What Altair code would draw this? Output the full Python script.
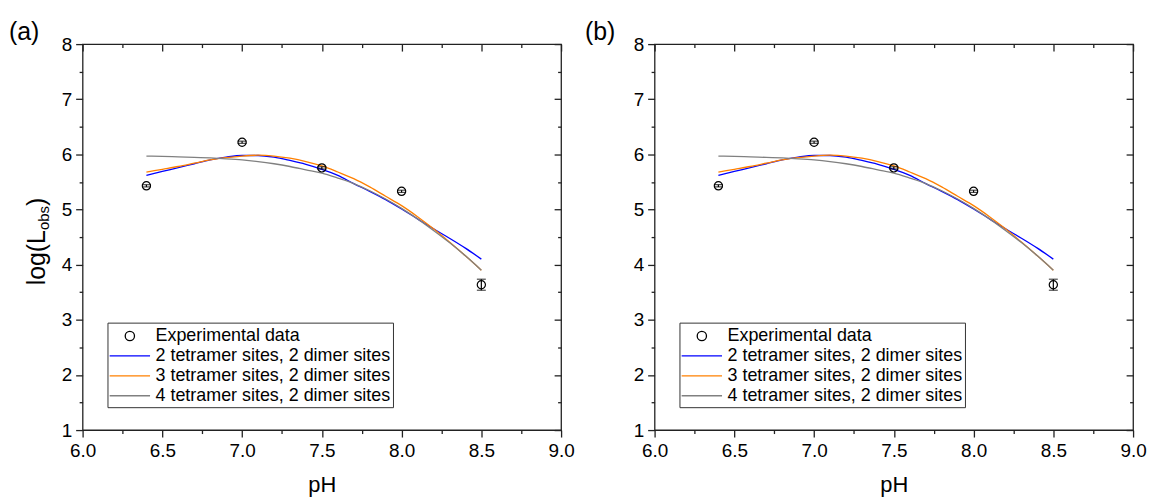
import altair as alt
import pandas as pd

# ---------------- data ----------------
ph_exp = [6.4, 7.0, 7.5, 8.0, 8.5]
logL_exp = [5.43, 6.22, 5.755, 5.33, 3.636]
logL_err = [0.02, 0.02, 0.02, 0.02, 0.10]

ph_fit = [6.4, 6.5, 6.6, 6.7, 6.8, 6.9, 7.0, 7.1, 7.2, 7.3, 7.4,
          7.5, 7.6, 7.7, 7.8, 7.9, 8.0, 8.1, 8.2, 8.3, 8.4, 8.5]
fit_2t = [5.62, 5.69, 5.76, 5.83, 5.90, 5.95, 5.98, 5.98, 5.95, 5.89, 5.82,
          5.73, 5.62, 5.47, 5.33, 5.18, 5.01, 4.83, 4.65, 4.48, 4.30, 4.10]
fit_3t = [5.68, 5.73, 5.78, 5.84, 5.90, 5.94, 5.97, 5.985, 5.97, 5.93, 5.87,
          5.79, 5.68, 5.56, 5.41, 5.24, 5.07, 4.87, 4.65, 4.41, 4.16, 3.90]
fit_4t = [5.97, 5.965, 5.955, 5.945, 5.935, 5.92, 5.90, 5.87, 5.83, 5.78, 5.72,
          5.66, 5.57, 5.47, 5.34, 5.19, 5.02, 4.83, 4.62, 4.40, 4.16, 3.90]

series_names = ["Experimental data",
                "2 tetramer sites, 2 dimer sites",
                "3 tetramer sites, 2 dimer sites",
                "4 tetramer sites, 2 dimer sites"]
series_colors = ["black", "#0000ff", "#ff8000", "#808080"]

x_ticks = [6.0, 6.25, 6.5, 6.75, 7.0, 7.25, 7.5, 7.75, 8.0, 8.25, 8.5, 8.75, 9.0]
x_major_ticks = [6.0, 6.5, 7.0, 7.5, 8.0, 8.5, 9.0]
x_minor_ticks = [6.25, 6.75, 7.25, 7.75, 8.25, 8.75]
y_ticks = [1, 1.5, 2, 2.5, 3, 3.5, 4, 4.5, 5, 5.5, 6, 6.5, 7, 7.5, 8]
y_major_ticks = [1, 2, 3, 4, 5, 6, 7, 8]
y_minor_ticks = [1.5, 2.5, 3.5, 4.5, 5.5, 6.5, 7.5]
panel_labels = ["(a)", "(b)"]
y_title_parts = ["log(L", "obs", ")"]

# ---------------- tables ----------------
fit_df = pd.concat([
    pd.DataFrame({"ph": ph_fit, "v": vals, "series": name})
    for name, vals in zip(series_names[1:], [fit_2t, fit_3t, fit_4t])
])
exp_df = pd.DataFrame({
    "ph": ph_exp,
    "v": logL_exp,
    "lo": [v - e for v, e in zip(logL_exp, logL_err)],
    "hi": [v + e for v, e in zip(logL_exp, logL_err)],
})

FONT = "Liberation Sans"
xs = alt.Scale(domain=[6, 9], nice=False, zero=False)
ys = alt.Scale(domain=[1, 8], nice=False, zero=False)

x_major = "datum.value % 0.5 === 0"
y_major = "datum.value % 1 === 0"

LINE_PATH = "M-2,0H2"
R = 0.46
CIRCLE_PATH = f"M{R},0A{R},{R},0,1,1,-{R},0A{R},{R},0,1,1,{R},0Z"
SYMBOL_EXPR = (f"datum.value === '{series_names[0]}' ? '{CIRCLE_PATH}' : '{LINE_PATH}'")


def make_panel(idx, with_title):
    ax_bottom = alt.Axis(
        orient="bottom", values=x_ticks, title="pH",
        labelExpr=f"{x_major} ? format(datum.value, '.1f') : ''",
        tickSize={"condition": {"test": x_major, "value": 7}, "value": 3.5},
        labelPadding=5, titlePadding=14,
        domain=False, grid=False, labelFlush=False, labelOverlap=False,
    )
    ax_left = alt.Axis(
        orient="left", values=y_ticks, title=None,
        labelExpr=f"{y_major} ? format(datum.value, 'd') : ''",
        tickSize={"condition": {"test": y_major, "value": 7}, "value": 3.5},
        labelPadding=4,
        domain=False, grid=False, labelFlush=False, labelOverlap=False,
    )
    ax_top_major = alt.Axis(orient="top", values=x_major_ticks, title=None, labels=False,
                            tickSize=7, offset=-7, domain=False, grid=False)
    ax_right_major = alt.Axis(orient="right", values=y_major_ticks, title=None, labels=False,
                              tickSize=7, offset=-7, domain=False, grid=False)
    ax_top_minor = alt.Axis(orient="top", values=x_minor_ticks, title=None, labels=False,
                            tickSize=3.5, offset=-3.5, domain=False, grid=False)
    ax_right_minor = alt.Axis(orient="right", values=y_minor_ticks, title=None, labels=False,
                              tickSize=3.5, offset=-3.5, domain=False, grid=False)
    legend = alt.Legend(
        orient="none", legendX=25, legendY=280, title=None,
        fillColor="white", strokeColor="#333333", padding=2.5,
        symbolSize=412, symbolOffset=9, labelOffset=14.8, rowPadding=0,
        symbolStrokeWidth=1.3, labelFont=FONT, labelFontSize=18,
        labelColor="black", labelLimit=0,
        symbolType={"expr": SYMBOL_EXPR},
        symbolFillColor="transparent",
    )

    lines = alt.Chart(fit_df).mark_line(strokeWidth=1.3, interpolate="monotone").encode(
        x=alt.X("ph:Q", scale=xs, axis=ax_bottom),
        y=alt.Y("v:Q", scale=ys, axis=ax_left),
        color=alt.Color("series:N",
                        scale=alt.Scale(domain=series_names, range=series_colors),
                        legend=legend),
    )
    errs = alt.Chart(exp_df).mark_errorbar(ticks=True, size=9, thickness=1.2, color="black").encode(
        x=alt.X("ph:Q", axis=ax_top_minor),
        y=alt.Y("lo:Q", axis=ax_right_minor),
        y2="hi:Q",
    )
    points = alt.Chart(exp_df).mark_point(
        shape="circle", filled=False, size=68, strokeWidth=1.2, color="black", opacity=1
    ).encode(
        x=alt.X("ph:Q", axis=ax_top_major),
        y=alt.Y("v:Q", axis=ax_right_major),
    )
    label = alt.Chart(pd.DataFrame({"t": [panel_labels[idx]]})).mark_text(
        align="left", baseline="middle", fontSize=25, font=FONT, color="black"
    ).encode(text="t:N", x=alt.value(-74 if idx == 0 else -70), y=alt.value(-12))

    layers = [lines, errs, points, label]
    if with_title:
        main_fs, sub_fs = 25, 15
        y0 = 242.5
        parts = [
            (y_title_parts[0], main_fs, -37.5, y0),
            (y_title_parts[1], sub_fs, -33.5, y0 - 2.223 * main_fs),
            (y_title_parts[2], main_fs, -37.5, y0 - 2.223 * main_fs - 1.612 * sub_fs),
        ]
        for txt, fs, px, py in parts:
            layers.append(
                alt.Chart(pd.DataFrame({"t": [txt]})).mark_text(
                    align="left", baseline="alphabetic", angle=270,
                    fontSize=fs, font=FONT, color="black"
                ).encode(text="t:N", x=alt.value(px), y=alt.value(py))
            )
    return alt.layer(*layers).resolve_axis(x="independent", y="independent").properties(
        width=481, height=388
    )


chart = alt.hconcat(
    make_panel(0, True), make_panel(1, False), spacing=94, bounds="flush"
).resolve_scale(
    color="independent"
).resolve_legend(
    color="independent"
).properties(
    padding={"left": 0, "top": 10, "right": 0, "bottom": 0}
).configure_view(
    stroke="#222222", strokeWidth=1.3
).configure_axis(
    labelFont=FONT, labelFontSize=19, labelColor="black",
    titleFont=FONT, titleFontSize=22, titleFontWeight="normal", titleColor="black",
    tickColor="#222222", tickWidth=1.3,
)

chart.save("out.html", embed_options={"renderer": "svg", "actions": False})
